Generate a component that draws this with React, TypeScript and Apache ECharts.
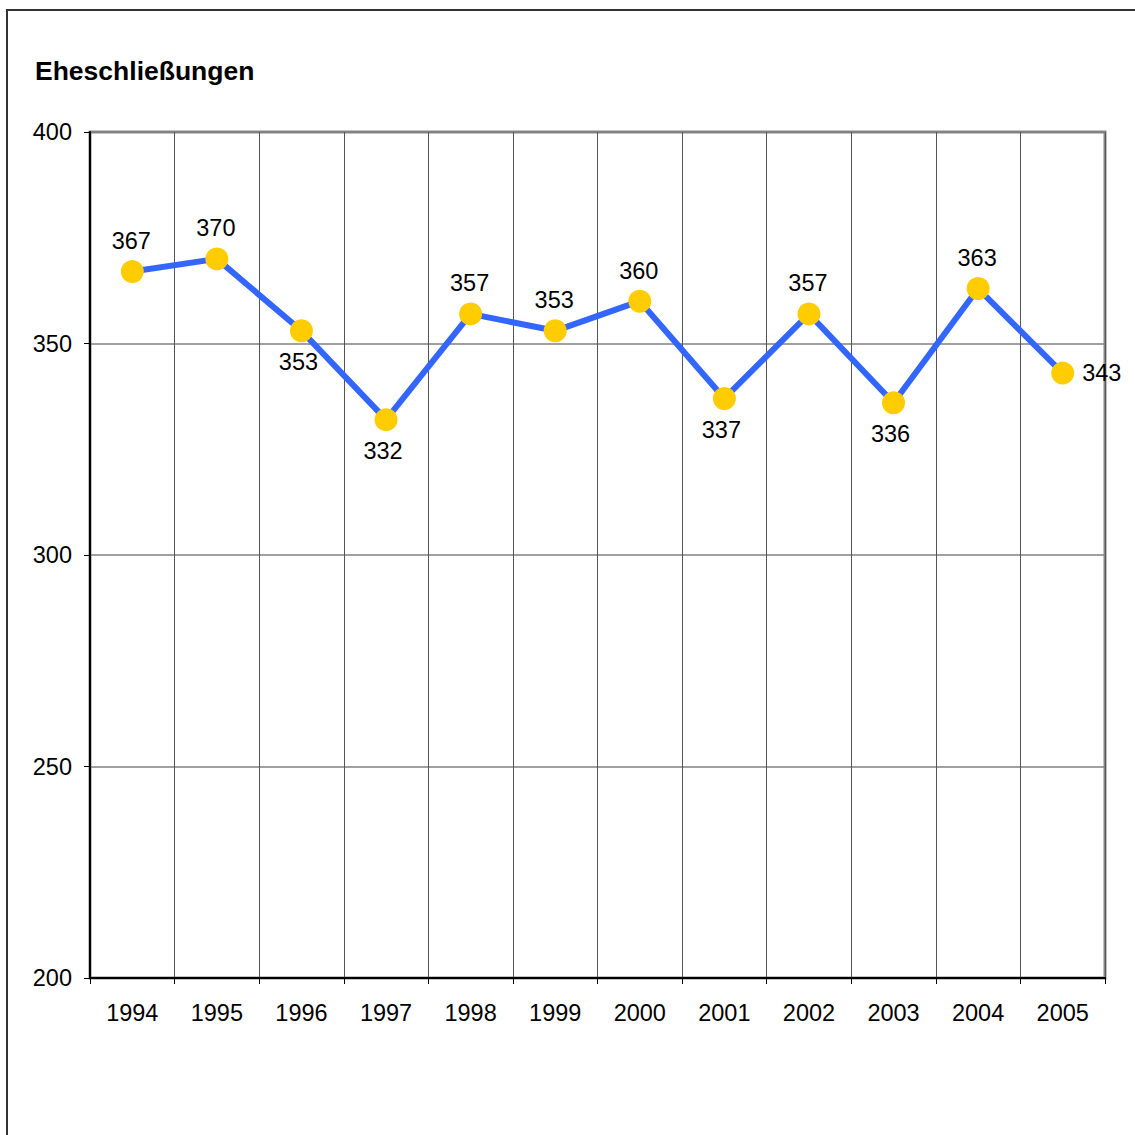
import React, { useEffect, useRef } from "react";
import * as echarts from "echarts";

const years = ["1994", "1995", "1996", "1997", "1998", "1999", "2000", "2001", "2002", "2003", "2004", "2005"];
const marriages = [367, 370, 353, 332, 357, 353, 360, 337, 357, 336, 363, 343];
const labelPositions = ["top", "top", "bottom", "bottom", "top", "top", "top", "bottom", "top", "bottom", "top", "right"];
const yTicks = [200, 250, 300, 350, 400];
const title = "Eheschließungen";

export default function App() {
  const ref = useRef<HTMLDivElement>(null);
  useEffect(() => {
    if (!ref.current) return;
    const chart = echarts.init(ref.current, null, { renderer: "svg" });
    const font = "'Liberation Sans', Arial, sans-serif";
    chart.setOption({
      animation: false,
      backgroundColor: "#ffffff",
      textStyle: { fontFamily: font },
      graphic: [
        {
          type: "rect",
          shape: { x: 7, y: 10, width: 1200, height: 1200 },
          style: { fill: "none", stroke: "#333", lineWidth: 2 },
          silent: true,
        },
        {
          type: "text",
          left: 35,
          top: 57,
          style: { text: title, font: `bold 26.5px ${font}`, fill: "#000" },
        },
      ],
      grid: {
        left: 90,
        top: 132,
        right: 30,
        bottom: 157,
        show: true,
        borderColor: "#888",
        borderWidth: 3,
        backgroundColor: "transparent",
      },
      xAxis: {
        type: "category",
        data: years,
        boundaryGap: true,
        axisLine: { show: true, lineStyle: { color: "#000", width: 2 } },
        axisTick: { show: true, interval: 0, length: 6, lineStyle: { color: "#000", width: 1 } },
        axisLabel: { interval: 0, fontSize: 23.5, color: "#000", margin: 23, fontFamily: font },
        splitLine: { show: true, interval: 0, lineStyle: { color: "#555", width: 1 } },
      },
      yAxis: {
        type: "value",
        min: yTicks[0],
        max: yTicks[yTicks.length - 1],
        interval: 50,
        axisLine: { show: true, lineStyle: { color: "#000", width: 2 } },
        axisTick: { show: true, length: 6, lineStyle: { color: "#000", width: 1 } },
        axisLabel: { fontSize: 23.5, color: "#000", margin: 18, fontFamily: font },
        splitLine: { show: true, lineStyle: { color: "#808080", width: 1.5 } },
      },
      series: [
        {
          type: "line",
          data: marriages.map((v, i) => ({
            value: v,
            label: {
              position: labelPositions[i],
              distance: labelPositions[i] === "bottom" ? 8 : labelPositions[i] === "right" ? 9 : 7,
              offset: labelPositions[i] === "bottom" ? [-3, 0] : [-1, 0],
            },
          })),
          lineStyle: { color: "#3366FF", width: 6 },
          symbol: "circle",
          symbolSize: 23,
          itemStyle: { color: "#FFCC00", borderWidth: 0 },
          label: { show: true, fontSize: 23.5, color: "#000", fontFamily: font },
          z: 5,
        },
      ],
    });
    return () => chart.dispose();
  }, []);
  return (
    <div
      ref={ref}
      style={{ position: "fixed", left: 0, top: 0, width: 1135, height: 1135 }}
    />
  );
}
